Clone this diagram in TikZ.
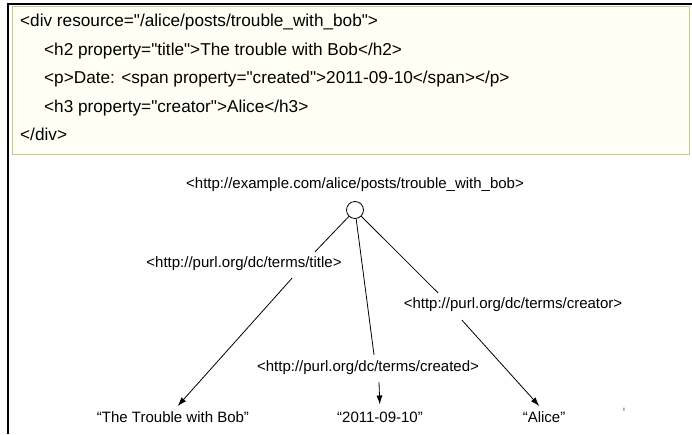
\documentclass[tikz,border=0pt]{standalone}
\usepackage{fontspec}
\setmainfont{Liberation Sans}[Ligatures=TeXOff]
\usepackage{tikz}
\usetikzlibrary{positioning, arrows.meta}
\definecolor{codefill}{HTML}{FFFFF6}
\definecolor{codeline}{HTML}{C9C98A}

\begin{document}
\begin{tikzpicture}[x=1pt, y=-1pt, >={Latex[length=9pt,width=6pt]}, every node/.style={inner sep=0pt},
		code/.style={font=\fontsize{17.2}{21}\selectfont, anchor=base west},
		lbl/.style={font=\fontsize{15}{17}\selectfont}]
			\useasboundingbox (0,0) rectangle (692,434);
			% slide frame
			\draw[line width=2pt] (8,434) -- (8,4) -- (692,4);
			% RDFa snippet
			\node[draw=codeline, line width=1.2pt, fill=codefill, minimum width=677pt, minimum height=148pt, anchor=north west] (box) at (12,5.5) {};
			\node[code] (div) at (20,26.5) {<div resource="/alice/posts/trouble\_with\_bob">};
			\node[code] (htwo) at (44,55) {<h2 property="title">The trouble with Bob</h2>};
			\node[code] (para) at (44,83.5) {<p>Date: <span property="created">2011-09-10</span></p>};
			\node[code] (hthree) at (44,112) {<h3 property="creator">Alice</h3>};
			\node[code] (enddiv) at (20,140.5) {</div>};
			% RDF graph
			\node[lbl] (subj) at (355,185) {<http://example.com/alice/posts/trouble\_with\_bob>};
			\node[draw, circle, minimum size=17pt, line width=0.8pt] (res) at (355,210) {};
			\node[lbl] (title) at (244,264) {<http://purl.org/dc/terms/title>};
			\node[lbl] (creator) at (513,305) {<http://purl.org/dc/terms/creator>};
			\node[lbl] (created) at (368,368) {<http://purl.org/dc/terms/created>};
			\node[lbl] (tbob) at (173,417) {“The Trouble with Bob”};
			\node[lbl] (tdate) at (380,417) {“2011-09-10”};
			\node[lbl] (talice) at (544,417) {“Alice”};
			\node[lbl, text=gray] (tick) at (624,413) {'};
			\draw[line width=0.8pt] (res) -- ([xshift=71pt, yshift=5pt]title.north);
			\draw[->, line width=0.8pt, shorten >=7pt] ([xshift=48pt, yshift=-7pt]title.south) -- (tbob.north);
			\draw[line width=0.8pt] (res) -- ([xshift=6pt, yshift=6pt]created.north);
			\draw[->, line width=0.8pt, shorten >=7pt] ([xshift=11pt, yshift=-7pt]created.south) -- (tdate.north);
			\draw[line width=0.8pt] (res) -- ([xshift=-75pt, yshift=5pt]creator.north);
			\draw[->, line width=0.8pt, shorten >=7pt] ([xshift=-51pt, yshift=-8pt]creator.south) -- (talice.north);
		\end{tikzpicture}
\end{document}
